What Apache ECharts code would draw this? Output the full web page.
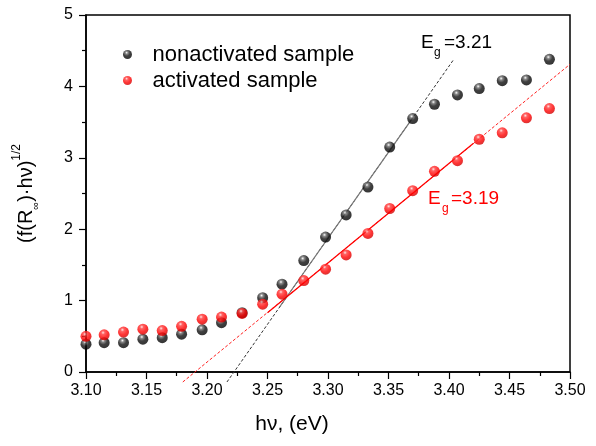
<!DOCTYPE html>
<html>
<head>
<meta charset="utf-8">
<script src="https://cdn.jsdelivr.net/npm/echarts@6/dist/echarts.min.js"></script>
<style>html,body{margin:0;padding:0;background:#fff}#c{width:596px;height:446px}</style>
</head>
<body>
<div id="c"></div>
<script>
// photon energy hν (eV)
const energy = [3.100, 3.115, 3.131, 3.147, 3.163, 3.179, 3.196, 3.212, 3.229, 3.246, 3.262, 3.280, 3.298, 3.315, 3.333, 3.351, 3.370, 3.388, 3.407, 3.425, 3.444, 3.464, 3.483];
const nonactivated = [0.39, 0.41, 0.41, 0.46, 0.48, 0.53, 0.59, 0.69, 0.83, 1.04, 1.23, 1.56, 1.89, 2.20, 2.59, 3.15, 3.55, 3.75, 3.88, 3.97, 4.08, 4.09, 4.38];
const activated    = [0.50, 0.52, 0.56, 0.60, 0.58, 0.64, 0.74, 0.77, 0.82, 0.95, 1.09, 1.28, 1.44, 1.64, 1.94, 2.29, 2.54, 2.81, 2.96, 3.26, 3.35, 3.56, 3.69];
// Tauc fit lines [x, y]
const blackFitDashed = [[3.2165, -0.14], [3.404, 4.38]];
const blackFitSolid  = [[3.260, 0.91], [3.370, 3.56]];
const redFitDashed   = [[3.180, -0.14], [3.500, 4.31]];
const redFitSolid    = [[3.250, 0.83], [3.420, 3.20]];
const seriesNames = ['nonactivated sample', 'activated sample'];
const xTicks = ['3.10','3.15','3.20','3.25','3.30','3.35','3.40','3.45','3.50'];
const yTicks = ['0','1','2','3','4','5'];

const FONT = 'Liberation Sans, Arial, sans-serif';
const blackBall = {type:'radial', x:0.4, y:0.3, r:0.75, colorStops:[
  {offset:0, color:'#ffffff'}, {offset:0.2, color:'#6a6a6a'}, {offset:0.5, color:'#111111'}, {offset:1, color:'#000000'}]};
const redBall = {type:'radial', x:0.4, y:0.3, r:0.75, colorStops:[
  {offset:0, color:'#ffe0e0'}, {offset:0.22, color:'#ff3a3a'}, {offset:0.6, color:'#ff0000'}, {offset:1, color:'#c80000'}]};

const pair = (xs, ys) => xs.map((x, i) => [x, ys[i]]);

const chart = echarts.init(document.getElementById('c'), null, {renderer:'canvas'});
chart.setOption({
  animation: false,
  backgroundColor: '#fff',
  grid: {left: 86, right: 26, top: 15, bottom: 74, show: true, borderColor: '#000', borderWidth: 1.5, backgroundColor: 'transparent'},
  legend: {
    orient: 'vertical', left: 118, top: 38, itemWidth: 40, itemHeight: 9, itemGap: 3,
    data: seriesNames,
    textStyle: {fontFamily: FONT, fontSize: 22, color: '#000', lineHeight: 23}
  },
  xAxis: {
    type: 'value', min: 3.10, max: 3.50, interval: 0.05,
    name: 'hν, (eV)', nameLocation: 'middle', nameGap: 42,
    nameTextStyle: {fontFamily: FONT, fontSize: 21, color: '#000', padding: [0, 72, 0, 0]},
    axisLine: {lineStyle: {color: '#000', width: 1.5}},
    axisTick: {length: 7, lineStyle: {color: '#000', width: 1.2}},
    minorTick: {show: true, splitNumber: 2, length: 4, lineStyle: {color: '#000', width: 1.2}},
    splitLine: {show: false},
    axisLabel: {fontFamily: FONT, fontSize: 16, color: '#000', margin: 11,
      formatter: v => xTicks[Math.round((v - 3.10) / 0.05)] ?? v.toFixed(2)}
  },
  yAxis: {
    type: 'value', min: 0, max: 5, interval: 1,
    name: '{m|(f(R}{s|∞}{m|)·hν)}{p|1/2}', nameLocation: 'middle', nameGap: 45, nameRotate: 90,
    nameTextStyle: {fontFamily: FONT, color: '#000',
      rich: {
        m: {fontFamily: FONT, fontSize: 20, color: '#000', lineHeight: 30, verticalAlign: 'middle'},
        s: {fontFamily: FONT, fontSize: 11, color: '#000', lineHeight: 30, verticalAlign: 'bottom'},
        p: {fontFamily: FONT, fontSize: 12, color: '#000', lineHeight: 30, verticalAlign: 'top'}
      }},
    axisLine: {show: true, lineStyle: {color: '#000', width: 1.5}},
    axisTick: {show: true, length: 7, lineStyle: {color: '#000', width: 1.2}},
    minorTick: {show: true, splitNumber: 2, length: 4, lineStyle: {color: '#000', width: 1.2}},
    splitLine: {show: false},
    axisLabel: {fontFamily: FONT, fontSize: 16, color: '#000', margin: 13,
      formatter: v => yTicks[Math.round(v)] ?? String(v)}
  },
  series: [
    {type: 'line', data: blackFitDashed, symbol: 'none', clip: false, silent: true, z: 1,
     lineStyle: {color: '#333', width: 1, type: [3, 2]}},
    {type: 'line', data: blackFitSolid, symbol: 'none', clip: false, silent: true, z: 1,
     lineStyle: {color: '#777', width: 1.2}},
    {type: 'line', data: redFitDashed, symbol: 'none', clip: false, silent: true, z: 1,
     lineStyle: {color: '#ff2020', width: 1, type: [3, 2]}},
    {type: 'line', data: redFitSolid, symbol: 'none', clip: false, silent: true, z: 1,
     lineStyle: {color: '#ff0000', width: 1.2}},
    {name: seriesNames[0], type: 'scatter', data: pair(energy, nonactivated), symbol: 'circle', symbolSize: 11, z: 3,
     itemStyle: {color: blackBall}},
    {name: seriesNames[1], type: 'scatter', data: pair(energy, activated), symbol: 'circle', symbolSize: 11, z: 4,
     itemStyle: {color: redBall}}
  ],
  graphic: [
    {type: 'text', left: 421, top: 33, style: {text: 'E', font: '19px ' + FONT, fill: '#000'}},
    {type: 'text', left: 434, top: 47, style: {text: 'g', font: '12px ' + FONT, fill: '#000'}},
    {type: 'text', left: 444, top: 33, style: {text: '=3.21', font: '19px ' + FONT, fill: '#000'}},
    {type: 'text', left: 428, top: 189, style: {text: 'E', font: '19px ' + FONT, fill: '#ff0000'}},
    {type: 'text', left: 442, top: 203, style: {text: 'g', font: '12px ' + FONT, fill: '#ff0000'}},
    {type: 'text', left: 451, top: 189, style: {text: '=3.19', font: '19px ' + FONT, fill: '#ff0000'}}
  ]
});
</script>
</body>
</html>
